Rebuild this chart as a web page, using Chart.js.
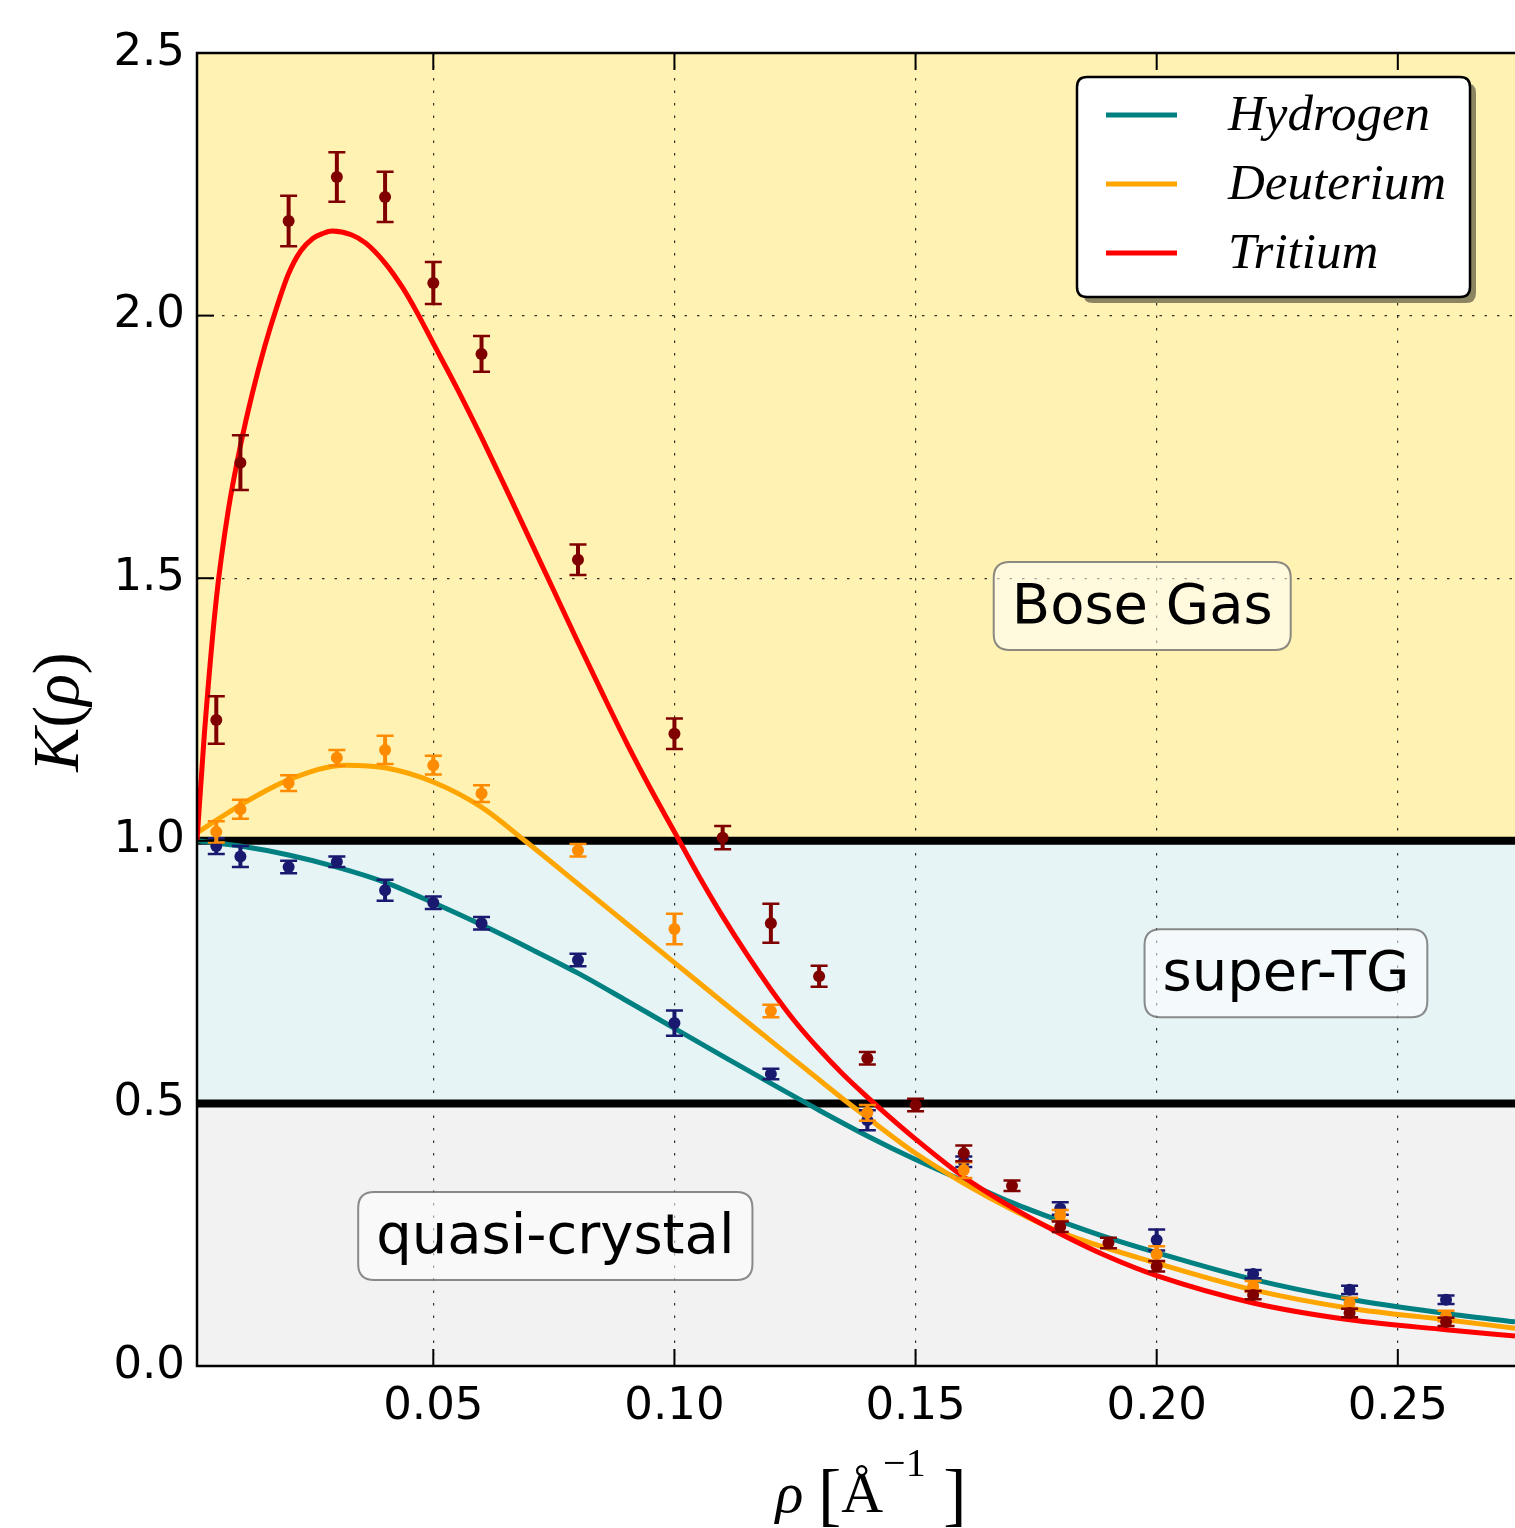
<!DOCTYPE html>
<html><head><meta charset="utf-8">
<script src="https://cdn.jsdelivr.net/npm/chart.js@4.4.0/dist/chart.umd.min.js"></script>
<style>html,body{margin:0;padding:0;background:#fff;overflow:hidden}#wrap{width:1515px;height:1528px;position:relative}canvas{display:block}</style>
</head><body><div id="wrap"><canvas id="c" width="1515" height="1528"></canvas></div>
<script>
// ---------- data ----------
const xTicks = [0.05, 0.10, 0.15, 0.20, 0.25];
const yTicks = [0.0, 0.5, 1.0, 1.5, 2.0, 2.5];
const seriesNames = ['Hydrogen', 'Deuterium', 'Tritium'];
const regionNames = ['Bose Gas', 'super-TG', 'quasi-crystal'];
const regionBounds = [0.0, 0.5, 1.0, 2.5];

const hdX = [0.005,0.01,0.02,0.03,0.04,0.05,0.06,0.08,0.10,0.12,0.14,0.16,0.18,0.20,0.22,0.24,0.26];
const hydrogenY   = [0.99,0.97,0.95,0.96,0.906,0.882,0.843,0.773,0.653,0.556,0.468,0.389,0.30,0.24,0.175,0.145,0.126];
const hydrogenErr = [0.015,0.02,0.012,0.01,0.02,0.012,0.012,0.012,0.024,0.01,0.019,0.01,0.012,0.02,0.008,0.008,0.008];
const deuteriumY   = [1.017,1.06,1.11,1.158,1.173,1.144,1.09,0.982,0.832,0.676,0.482,0.373,0.287,0.213,0.152,0.12,0.095];
const deuteriumErr = [0.02,0.018,0.015,0.015,0.027,0.018,0.016,0.012,0.029,0.012,0.015,0.015,0.01,0.015,0.01,0.01,0.01];
const tX = [0.005,0.01,0.02,0.03,0.04,0.05,0.06,0.08,0.10,0.11,0.12,0.13,0.14,0.15,0.16,0.17,0.18,0.19,0.20,0.22,0.24,0.26];
const tritiumY   = [1.23,1.72,2.18,2.264,2.226,2.062,1.927,1.535,1.204,1.006,0.843,0.742,0.586,0.497,0.405,0.343,0.265,0.234,0.19,0.135,0.101,0.084];
const tritiumErr = [0.045,0.052,0.048,0.047,0.048,0.04,0.034,0.029,0.029,0.022,0.037,0.02,0.012,0.012,0.015,0.01,0.01,0.01,0.01,0.008,0.008,0.008];

const hCurveX = [0.001,0.01,0.02,0.03,0.04,0.05,0.06,0.07,0.08,0.09,0.10,0.11,0.12,0.13,0.14,0.15,0.16,0.17,0.18,0.19,0.20,0.22,0.24,0.26,0.2743];
const hCurveY = [1.000,0.990,0.973,0.950,0.921,0.882,0.840,0.795,0.748,0.696,0.643,0.590,0.538,0.487,0.438,0.393,0.352,0.311,0.276,0.244,0.216,0.165,0.127,0.100,0.084];
const dCurveX = [0.001,0.01,0.02,0.032,0.04,0.05,0.06,0.069,0.08,0.09,0.10,0.11,0.12,0.13,0.1357,0.14,0.15,0.16,0.17,0.18,0.20,0.22,0.24,0.26,0.2743];
const dCurveY = [1.015,1.068,1.116,1.144,1.139,1.112,1.064,1.000,0.918,0.843,0.768,0.693,0.619,0.545,0.503,0.473,0.405,0.348,0.298,0.255,0.196,0.145,0.110,0.088,0.072];
const tCurveX = [0.001,0.0025,0.005,0.0075,0.010,0.0125,0.015,0.0175,0.020,0.0225,0.025,0.027,0.029,0.033,0.036,0.040,0.0435,0.0465,0.050,0.055,0.060,0.065,0.070,0.075,0.080,0.085,0.090,0.095,0.100,0.105,0.110,0.115,0.120,0.125,0.130,0.135,0.140,0.145,0.150,0.160,0.170,0.180,0.190,0.200,0.220,0.240,0.260,0.2743];
const tCurveY = [1.000,1.200,1.460,1.630,1.752,1.853,1.940,2.015,2.080,2.123,2.147,2.156,2.161,2.154,2.138,2.100,2.055,2.008,1.947,1.860,1.768,1.672,1.574,1.476,1.378,1.282,1.188,1.100,1.017,0.934,0.856,0.784,0.717,0.656,0.603,0.555,0.512,0.471,0.432,0.360,0.302,0.252,0.208,0.172,0.120,0.088,0.069,0.057];

// ---------- styling ----------
const curveColors = ['#008080', '#ffa500', '#ff0000'];
const pointColors = ['#191970', '#ff8c00', '#800000'];
const bandColors = ['#f2f2f2', '#e6f4f6', '#fff2b3'];
const regionPos = [[0.197, 1.447], [0.2268, 0.748], [0.0753, 0.2475]];

const xy = (xs, ys) => xs.map((x, i) => ({x, y: ys[i]}));

const curveStyle = {showLine: true, borderWidth: 5, pointRadius: 0, cubicInterpolationMode: 'monotone', isCurve: true};
const pointStyle = {pointRadius: 6, borderWidth: 0};
const datasets = [
  {...curveStyle, label: seriesNames[0], data: xy(hCurveX, hCurveY), borderColor: curveColors[0], order: 6},
  {...curveStyle, label: seriesNames[1], data: xy(dCurveX, dCurveY), borderColor: curveColors[1], order: 5},
  {...curveStyle, label: seriesNames[2], data: xy(tCurveX, tCurveY), borderColor: curveColors[2], order: 4},
  {...pointStyle, label: seriesNames[0] + ' data', data: xy(hdX, hydrogenY), errors: hydrogenErr, backgroundColor: pointColors[0], borderColor: pointColors[0], order: 3},
  {...pointStyle, label: seriesNames[1] + ' data', data: xy(hdX, deuteriumY), errors: deuteriumErr, backgroundColor: pointColors[1], borderColor: pointColors[1], order: 2},
  {...pointStyle, label: seriesNames[2] + ' data', data: xy(tX, tritiumY), errors: tritiumErr, backgroundColor: pointColors[2], borderColor: pointColors[2], order: 1},
];

function roundRect(ctx, x, y, w, h, r) {
  ctx.beginPath();
  ctx.moveTo(x + r, y);
  ctx.lineTo(x + w - r, y);
  ctx.quadraticCurveTo(x + w, y, x + w, y + r);
  ctx.lineTo(x + w, y + h - r);
  ctx.quadraticCurveTo(x + w, y + h, x + w - r, y + h);
  ctx.lineTo(x + r, y + h);
  ctx.quadraticCurveTo(x, y + h, x, y + h - r);
  ctx.lineTo(x, y + r);
  ctx.quadraticCurveTo(x, y, x + r, y);
  ctx.closePath();
}

const decor = {
  id: 'decor',
  beforeDraw(chart) {
    const {ctx, chartArea: a, scales: {y}} = chart;
    ctx.save();
    ctx.fillStyle = '#fff';
    ctx.fillRect(0, 0, chart.width, chart.height);
    for (let i = 0; i < 3; i++) {
      const top = y.getPixelForValue(regionBounds[i + 1]);
      const bot = y.getPixelForValue(regionBounds[i]);
      ctx.fillStyle = bandColors[i];
      ctx.fillRect(a.left, top, a.right - a.left, bot - top);
    }
    ctx.restore();
  },
  beforeDatasetsDraw(chart) {
    const {ctx, chartArea: a, scales: {y}} = chart;
    ctx.save();
    ctx.strokeStyle = '#000';
    ctx.lineWidth = 8;
    [regionBounds[1], regionBounds[2]].forEach(v => {
      const py = y.getPixelForValue(v);
      ctx.beginPath(); ctx.moveTo(a.left, py); ctx.lineTo(a.right, py); ctx.stroke();
    });
    ctx.restore();
  },
  beforeDatasetDraw(chart, args) {
    const ds = chart.data.datasets[args.index];
    if (!ds.errors) return;
    const {ctx, scales: {x, y}} = chart;
    ctx.save();
    ctx.strokeStyle = ds.borderColor;
    ds.data.forEach((p, i) => {
      const px = x.getPixelForValue(p.x);
      const y1 = y.getPixelForValue(p.y + ds.errors[i]);
      const y2 = y.getPixelForValue(p.y - ds.errors[i]);
      ctx.lineWidth = 4;
      ctx.beginPath(); ctx.moveTo(px, y1); ctx.lineTo(px, y2); ctx.stroke();
      ctx.lineWidth = 2.5;
      ctx.beginPath();
      ctx.moveTo(px - 8.5, y1); ctx.lineTo(px + 8.5, y1);
      ctx.moveTo(px - 8.5, y2); ctx.lineTo(px + 8.5, y2);
      ctx.stroke();
    });
    ctx.restore();
  },
  afterDatasetsDraw(chart) {
    const {ctx, chartArea: a, scales: {x, y}} = chart;
    ctx.save();
    ctx.strokeStyle = '#000';
    ctx.lineWidth = 2;
    xTicks.forEach(v => {
      const px = x.getPixelForValue(v);
      ctx.beginPath();
      ctx.moveTo(px, a.bottom); ctx.lineTo(px, a.bottom - 17);
      ctx.moveTo(px, a.top); ctx.lineTo(px, a.top + 17);
      ctx.stroke();
    });
    yTicks.forEach(v => {
      const py = y.getPixelForValue(v);
      ctx.beginPath(); ctx.moveTo(a.left, py); ctx.lineTo(a.left + 17, py); ctx.stroke();
    });
    ctx.lineWidth = 2.5;
    ctx.beginPath();
    ctx.moveTo(a.right + 2, a.top); ctx.lineTo(a.left, a.top);
    ctx.lineTo(a.left, a.bottom); ctx.lineTo(a.right + 2, a.bottom);
    ctx.stroke();
    ctx.restore();
  },
  afterDraw(chart) {
    const {ctx, chartArea: a, scales: {x, y}} = chart;
    ctx.save();
    // region labels
    ctx.font = '56px "DejaVu Sans"';
    ctx.textAlign = 'center';
    ctx.textBaseline = 'middle';
    regionNames.forEach((t, i) => {
      const cx = x.getPixelForValue(regionPos[i][0]);
      const cy = y.getPixelForValue(regionPos[i][1]);
      const w = ctx.measureText(t).width + 36;
      const h = 88;
      roundRect(ctx, cx - w / 2, cy - h / 2, w, h, 16);
      ctx.fillStyle = 'rgba(255,255,255,0.55)';
      ctx.fill();
      ctx.strokeStyle = 'rgba(110,110,110,0.8)';
      ctx.lineWidth = 2;
      ctx.stroke();
      ctx.fillStyle = '#000';
      ctx.fillText(t, cx, cy + 2);
    });
    // legend
    const lx = a.right - 438, ly = a.top + 24, lw = 393, lh = 220;
    roundRect(ctx, lx + 6, ly + 6, lw, lh, 10);
    ctx.fillStyle = 'rgba(0,0,0,0.45)';
    ctx.fill();
    roundRect(ctx, lx, ly, lw, lh, 10);
    ctx.fillStyle = '#fff';
    ctx.fill();
    ctx.strokeStyle = '#000';
    ctx.lineWidth = 2.5;
    ctx.stroke();
    const curves = chart.data.datasets.filter(d => d.isCurve);
    ctx.textAlign = 'left';
    ctx.textBaseline = 'alphabetic';
    ctx.font = 'italic 51px "Liberation Serif"';
    curves.forEach((d, i) => {
      const yy = ly + 38 + i * 69;
      ctx.strokeStyle = d.borderColor;
      ctx.lineWidth = 5;
      ctx.beginPath(); ctx.moveTo(lx + 29, yy); ctx.lineTo(lx + 100, yy); ctx.stroke();
      ctx.fillStyle = '#000';
      ctx.fillText(d.label, lx + 151, yy + 15);
    });
    // x axis title
    const parts = [
      {t: 'ρ', f: 'italic 58px "Liberation Serif"', dy: 0},
      {t: ' ', f: '58px "Liberation Serif"', dy: 0},
      {t: '[', f: '70px "Liberation Serif"', dy: 6},
      {t: 'Å', f: '58px "Liberation Serif"', dy: 0},
      {t: '−1', f: '40px "Liberation Serif"', dy: -36},
      {t: ' ]', f: '70px "Liberation Serif"', dy: 6},
    ];
    let total = 0;
    parts.forEach(p => { ctx.font = p.f; p.w = ctx.measureText(p.t).width; total += p.w; });
    let cx = 871 - total / 2;
    ctx.fillStyle = '#000';
    parts.forEach(p => { ctx.font = p.f; ctx.fillText(p.t, cx, 1512 + p.dy); cx += p.w; });
    // y axis title
    const yparts = [
      {t: 'K', f: 'italic 66px "Liberation Serif"'},
      {t: '(', f: '66px "Liberation Serif"'},
      {t: 'ρ', f: 'italic 66px "Liberation Serif"'},
      {t: ')', f: '66px "Liberation Serif"'},
    ];
    total = 0;
    yparts.forEach(p => { ctx.font = p.f; p.w = ctx.measureText(p.t).width; total += p.w; });
    ctx.translate(78, 712);
    ctx.rotate(-Math.PI / 2);
    let tx = -total / 2;
    yparts.forEach(p => { ctx.font = p.f; ctx.fillText(p.t, tx, 0); tx += p.w; });
    ctx.restore();
  }
};

new Chart(document.getElementById('c'), {
  type: 'scatter',
  data: {datasets},
  options: {
    responsive: false,
    animation: false,
    devicePixelRatio: 1,
    layout: {autoPadding: false, padding: {top: 53, right: 0, left: 0, bottom: 0}},
    plugins: {legend: {display: false}, tooltip: {enabled: false}},
    scales: {
      x: {
        type: 'linear', min: 0.001, max: 0.2743,
        afterBuildTicks: s => { s.ticks = xTicks.map(v => ({value: v})); },
        afterFit: s => { s.height = 162; },
        grid: {color: 'rgba(0,0,0,0.8)', lineWidth: 1.2, drawTicks: false},
        border: {display: false, dash: [2.5, 10]},
        ticks: {color: '#000', padding: 14, font: {family: 'DejaVu Sans', size: 45}, callback: v => v.toFixed(2), maxRotation: 0, autoSkip: false}
      },
      y: {
        type: 'linear', min: 0, max: 2.5,
        afterBuildTicks: s => { s.ticks = yTicks.map(v => ({value: v})); },
        afterFit: s => { s.width = 197; },
        grid: {color: 'rgba(0,0,0,0.8)', lineWidth: 1.2, drawTicks: false},
        border: {display: false, dash: [2.5, 10]},
        ticks: {color: '#000', padding: 12, font: {family: 'DejaVu Sans', size: 45}, callback: v => v.toFixed(1), autoSkip: false}
      }
    }
  },
  plugins: [decor]
});
</script></body></html>
